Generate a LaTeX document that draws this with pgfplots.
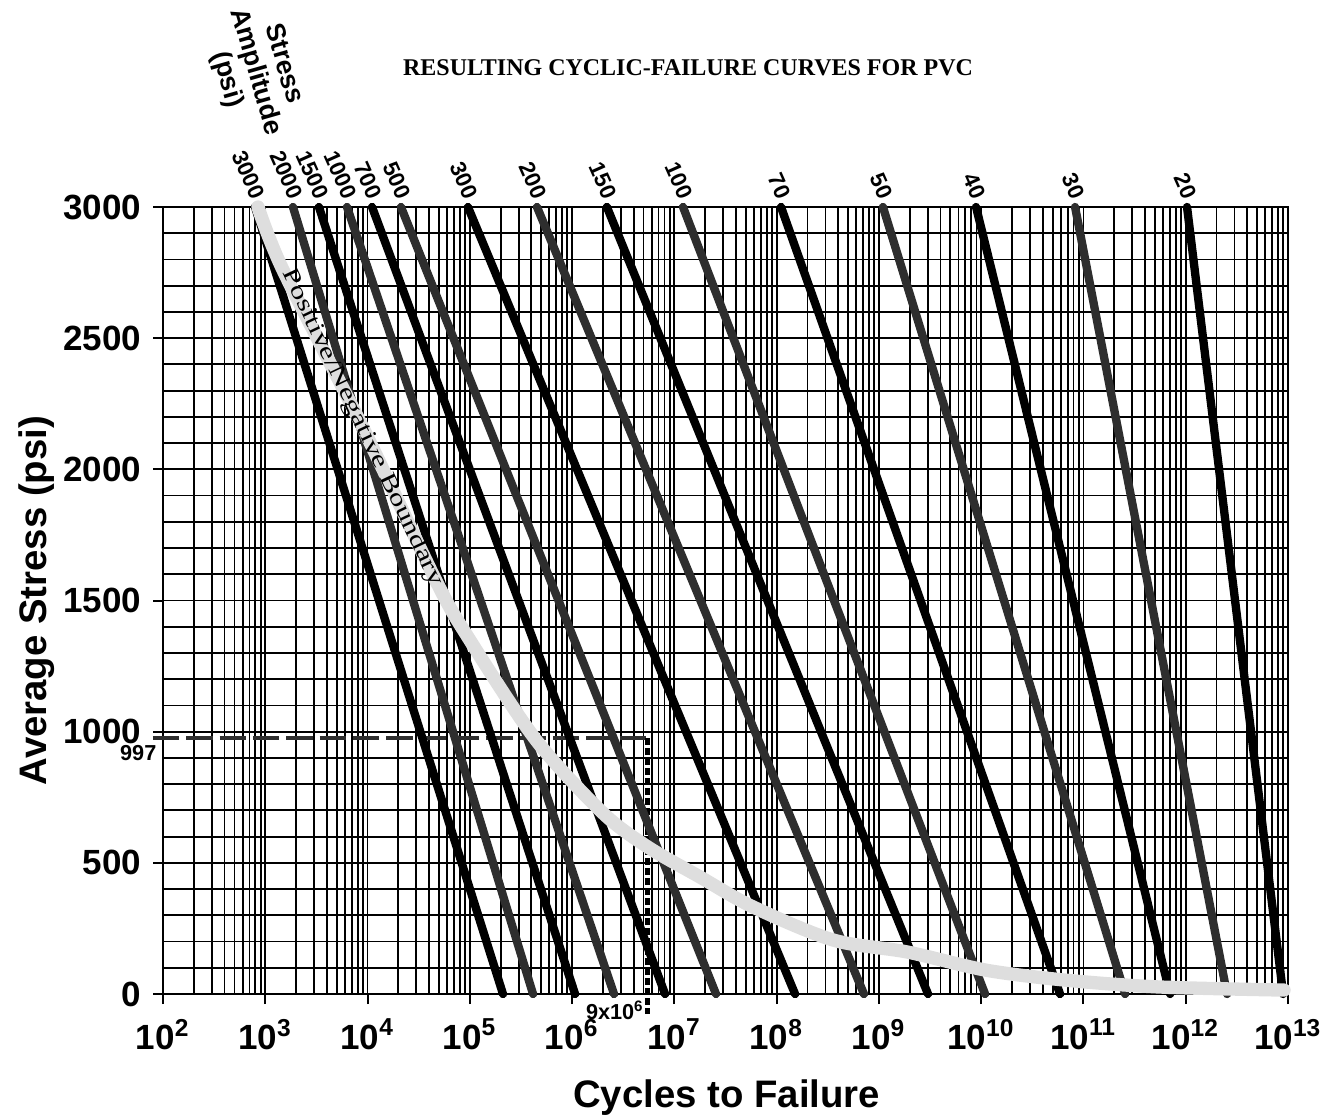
\documentclass[border=0pt]{standalone}
\usepackage{pgfplots}
\pgfplotsset{compat=1.18}
\usepackage{fontspec}
\setmainfont{Liberation Sans}
\newfontfamily\timesfont{Liberation Serif}
\definecolor{dk}{gray}{0.18}
\definecolor{lt}{gray}{0.87}
\tikzset{clab/.style={anchor=east, rotate=-66, inner sep=0pt, font=\bfseries\fontsize{6.7}{7.5}\selectfont}}
\begin{document}
\begin{tikzpicture}
\useasboundingbox (-48.9pt,-37.2pt) rectangle (349.8pt,298.2pt);
\begin{axis}[
  at={(0,0)}, anchor=south west,
  scale only axis, width=337.5pt, height=236.1pt,
  xmode=log, xmin=1e2, xmax=1e13, ymin=0, ymax=3000,
  enlargelimits=false, clip=false,
  xtick={1e2,1e3,1e4,1e5,1e6,1e7,1e8,1e9,1e10,1e11,1e12,1e13},
  xticklabels={10\textsuperscript{2},10\textsuperscript{3},10\textsuperscript{4},10\textsuperscript{5},10\textsuperscript{6},10\textsuperscript{7},10\textsuperscript{8},10\textsuperscript{9},10\textsuperscript{10},10\textsuperscript{11},10\textsuperscript{12},10\textsuperscript{13}},
  minor xtick={2e2,3e2,4e2,5e2,6e2,7e2,8e2,9e2,
    2e3,3e3,4e3,5e3,6e3,7e3,8e3,9e3,
    2e4,3e4,4e4,5e4,6e4,7e4,8e4,9e4,
    2e5,3e5,4e5,5e5,6e5,7e5,8e5,9e5,
    2e6,3e6,4e6,5e6,6e6,7e6,8e6,9e6,
    2e7,3e7,4e7,5e7,6e7,7e7,8e7,9e7,
    2e8,3e8,4e8,5e8,6e8,7e8,8e8,9e8,
    2e9,3e9,4e9,5e9,6e9,7e9,8e9,9e9,
    2e10,3e10,4e10,5e10,6e10,7e10,8e10,9e10,
    2e11,3e11,4e11,5e11,6e11,7e11,8e11,9e11,
    2e12,3e12,4e12,5e12,6e12,7e12,8e12,9e12},
  ytick={0,500,1000,1500,2000,2500,3000},
  yticklabels={0,500,1000,1500,2000,2500,3000},
  minor y tick num=4,
  grid=both,
  major grid style={black, line width=0.55pt},
  minor grid style={black, line width=0.55pt},
  axis line style={black, line width=0.6pt},
  tick align=outside, xtick pos=left, ytick pos=left,
  major tick length=3pt, minor tick length=0pt,
  tick style={black, line width=0.6pt},
  ticklabel style={font=\bfseries\fontsize{10.5}{12}\selectfont},
  xticklabel style={yshift=-1pt},
  xlabel={Cycles to Failure}, ylabel={Average Stress (psi)},
  xlabel style={font=\bfseries\fontsize{11.5}{13}\selectfont, at={(axis description cs:0.501,-0.131)}, anchor=center},
  ylabel style={font=\bfseries\fontsize{11.5}{13}\selectfont, at={(axis description cs:-0.112,0.5)}, anchor=center},
  title={RESULTING CYCLIC-FAILURE CURVES FOR PVC},
  every axis title/.style={font=\timesfont\bfseries\fontsize{7.2}{9}\selectfont, at={(axis description cs:0.4667,1.1766)}, anchor=center},
  every axis plot/.append style={line width=2.5pt, line cap=round},
]
% dashed reference lines
\addplot[dk, line width=1.2pt, line cap=butt, dash pattern=on 7.9pt off 2.1pt] coordinates {(79.8,975) (5.52e6,975)};
\addplot[black, line width=1.5pt, line cap=butt, dash pattern=on 2pt off 1pt] coordinates {(5.52e6,975) (5.52e6,-76)};
% cyclic-failure curves (stress amplitude in psi)
\addplot[black] coordinates {(794,3000) (2.11e5,0)};       % 3000
\addplot[dk]    coordinates {(1866,3000) (4.15e5,0)};      % 2000
\addplot[black] coordinates {(3350,3000) (1.069e6,0)};     % 1500
\addplot[dk]    coordinates {(6300,3000) (2.57e6,0)};      % 1000
\addplot[black] coordinates {(1.107e4,3000) (8.11e6,0)};   % 700
\addplot[dk]    coordinates {(2.123e4,3000) (2.553e7,0)};  % 500
\addplot[black] coordinates {(9.59e4,3000) (1.514e8,0)};   % 300
\addplot[dk]    coordinates {(4.54e5,3000) (7.14e8,0)};    % 200
\addplot[black] coordinates {(2.19e6,3000) (3.02e9,0)};    % 150
\addplot[dk]    coordinates {(1.216e7,3000) (1.091e10,0)}; % 100
\addplot[black] coordinates {(1.104e8,3000) (5.90e10,0)};  % 70
\addplot[dk]    coordinates {(1.096e9,3000) (2.553e11,0)}; % 50
\addplot[black] coordinates {(8.91e9,3000) (7.03e11,0)};   % 40
\addplot[dk]    coordinates {(8.28e10,3000) (2.535e12,0)}; % 30
\addplot[black] coordinates {(1.03e12,3000) (8.95e12,0)};  % 20
% positive/negative boundary
\addplot[lt, line width=4pt, smooth, tension=0.5] coordinates {
  (849,3000) (1489,2760) (9226,2150) (4.78e4,1567) (1.00e5,1349)
  (4.44e5,968) (2.00e6,690) (5.52e6,560) (1.78e7,446) (5.87e7,332)
  (3.56e8,206) (1.9e9,160) (1.11e10,91) (6.61e10,53) (5.36e11,27) (9.14e12,15)};
\node[rotate=-64.5, xscale=1.32, inner sep=0pt, font=\timesfont\fontsize{7}{8}\selectfont] at (axis cs:8830,2160) {Positive/Negative Boundary};
% curve labels
\node[clab] at (axis cs:869,3034) {3000};
\node[clab] at (axis cs:2042,3034) {2000};
\node[clab] at (axis cs:3664,3034) {1500};
\node[clab] at (axis cs:6887,3034) {1000};
\node[clab] at (axis cs:1.21e4,3034) {700};
\node[clab] at (axis cs:2.32e4,3034) {500};
\node[clab] at (axis cs:1.05e5,3034) {300};
\node[clab] at (axis cs:4.97e5,3034) {200};
\node[clab] at (axis cs:2.40e6,3034) {150};
\node[clab] at (axis cs:1.33e7,3034) {100};
\node[clab] at (axis cs:1.21e8,3034) {70};
\node[clab] at (axis cs:1.20e9,3034) {50};
\node[clab] at (axis cs:9.75e9,3034) {40};
\node[clab] at (axis cs:9.06e10,3034) {30};
\node[clab] at (axis cs:1.13e12,3034) {20};
\node[rotate=-74, align=center, inner sep=0pt, font=\bfseries\fontsize{8}{8.8}\selectfont] at (axis cs:794,3515) {Stress\\Amplitude\\(psi)};
% value annotations
\node[anchor=north east, inner sep=0pt, font=\bfseries\fontsize{6.5}{7}\selectfont] at (axis cs:87.4,949) {997};
\node[anchor=east, inner sep=0pt, font=\bfseries\fontsize{6.5}{7}\selectfont] at (axis cs:5.16e6,-61) {9x10\textsuperscript{6}};
\end{axis}
\end{tikzpicture}
\end{document}
